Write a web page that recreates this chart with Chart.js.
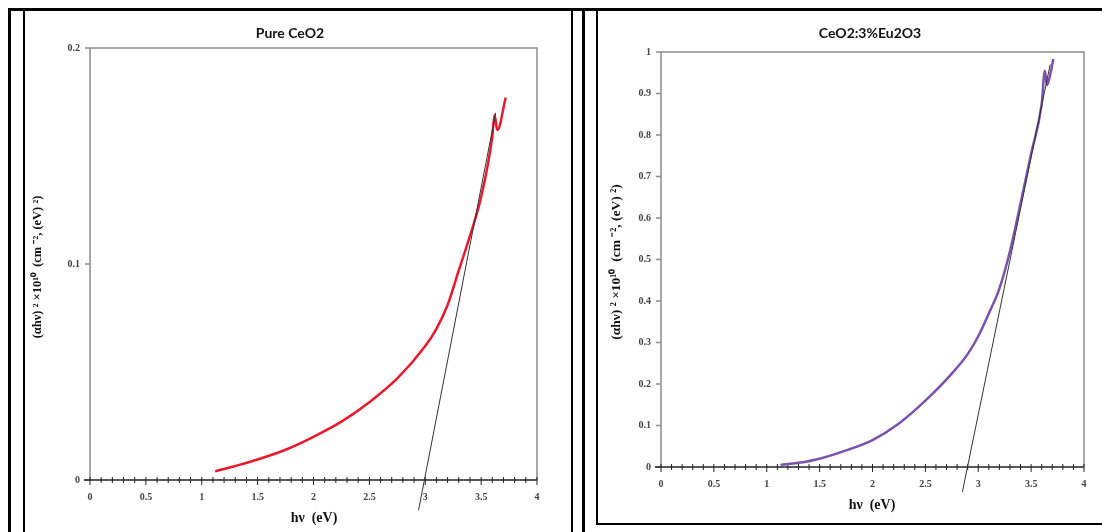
<!DOCTYPE html>
<html>
<head>
<meta charset="utf-8">
<script src="https://cdn.jsdelivr.net/npm/chart.js@4.4.1/dist/chart.umd.min.js"></script>
<style>
body { margin: 0; background: #fff; width: 1102px; height: 532px; overflow: hidden; position: relative; }
.ln { position: absolute; background: #000; }
canvas { position: absolute; }
</style>
</head>
<body>
<div class="ln" style="left:8px;top:8px;width:1094px;height:3px"></div>
<div class="ln" style="left:8px;top:8px;width:3px;height:524px"></div>
<div class="ln" style="left:23px;top:10px;width:2px;height:522px"></div>
<div class="ln" style="left:571px;top:10px;width:2px;height:522px"></div>
<div class="ln" style="left:582px;top:10px;width:3px;height:522px"></div>
<div class="ln" style="left:596px;top:10px;width:2px;height:515px"></div>
<div class="ln" style="left:596px;top:523px;width:506px;height:2px"></div>
<canvas id="pure" width="546" height="520" style="left:25px;top:12px"></canvas>
<canvas id="eu" width="504" height="511" style="left:598px;top:12px"></canvas>
<script>
// Pure CeO2 : (alpha h nu)^2 against photon energy
const pureX = [1.12, 1.3, 1.5, 1.75, 2.0, 2.25, 2.5, 2.75, 3.0, 3.1, 3.2, 3.3, 3.4, 3.5, 3.6, 3.62, 3.645, 3.72];
const pureY = [0.004, 0.0065, 0.0095, 0.014, 0.020, 0.027, 0.036, 0.047, 0.062, 0.070, 0.081, 0.097, 0.113, 0.131, 0.159, 0.169, 0.162, 0.177];
const pureFitX = [2.94, 3.63];
const pureFitY = [-0.014, 0.170];

// CeO2:3%Eu2O3
const euX = [1.13, 1.3, 1.5, 1.75, 2.0, 2.25, 2.5, 2.75, 2.9, 3.0, 3.1, 3.2, 3.3, 3.4, 3.5, 3.6, 3.63, 3.65, 3.68, 3.71];
const euY = [0.005, 0.01, 0.02, 0.04, 0.065, 0.105, 0.16, 0.225, 0.272, 0.315, 0.37, 0.43, 0.52, 0.635, 0.755, 0.875, 0.955, 0.92, 0.945, 0.983];
const euFitX = [2.85, 3.68];
const euFitY = [-0.06, 0.97];

const xTitle = 'hν  (eV)';
const yTitle = '(αhν) ² ×10¹⁰  (cm ⁻², (eV) ²)';

const pts = (xs, ys) => xs.map((v, i) => ({ x: v, y: ys[i] }));
const tickText = v => String(+v.toFixed(2));

// frame, minor ticks and the free-placed texts
const decor = {
    id: 'decor',
    beforeDatasetsDraw(chart, args, o) {
        const { ctx, chartArea: a, scales: { x, y } } = chart;
        ctx.save();
        ctx.strokeStyle = '#8c8c8c';
        ctx.lineWidth = 1.5;
        ctx.beginPath();
        ctx.moveTo(a.left, a.bottom);
        ctx.lineTo(a.left, a.top);
        ctx.lineTo(a.right, a.top);
        ctx.lineTo(a.right, a.bottom);
        y.ticks.forEach(t => {
            const py = y.getPixelForValue(t.value);
            ctx.moveTo(a.left - 5, py);
            ctx.lineTo(a.left, py);
        });
        ctx.stroke();
        ctx.strokeStyle = '#222';
        ctx.lineWidth = 1.6;
        ctx.beginPath();
        ctx.moveTo(a.left - 6, a.bottom);
        ctx.lineTo(a.right, a.bottom);
        ctx.stroke();
        ctx.lineWidth = 1;
        ctx.beginPath();
        for (let i = 0; i <= 40; i++) {
            const px = x.getPixelForValue(i / 10);
            const big = i % 5 === 0;
            ctx.moveTo(px, a.bottom - 3);
            ctx.lineTo(px, a.bottom + (big ? 5 : 3));
        }
        ctx.stroke();
        ctx.restore();
    },
    afterDraw(chart, args, o) {
        const ctx = chart.ctx;
        ctx.save();
        ctx.fillStyle = '#111';
        ctx.textAlign = 'center';
        ctx.textBaseline = 'middle';
        ctx.font = 'bold 14px Lato';
        ctx.fillText(o.title, o.tx, o.ty);
        ctx.font = 'bold 14px "Liberation Serif"';
        ctx.fillText(xTitle, o.xx, o.xy);
        ctx.translate(o.yx, o.yy);
        ctx.rotate(-Math.PI / 2);
        ctx.font = 'bold ' + o.ys + 'px "Liberation Serif"';
        ctx.fillText(yTitle, 0, 0);
        ctx.restore();
    }
};

function makeChart(id, curve, fit, color, yMax, yStep, yWidth, xHeight, pad, text) {
    return new Chart(document.getElementById(id), {
        type: 'scatter',
        data: {
            datasets: [
                {
                    data: fit,
                    showLine: true,
                    borderColor: '#333',
                    borderWidth: 1,
                    pointRadius: 0,
                    clip: false
                },
                {
                    data: curve,
                    showLine: true,
                    borderColor: color,
                    borderWidth: 2.5,
                    pointRadius: 0,
                    cubicInterpolationMode: 'monotone'
                }
            ]
        },
        options: {
            responsive: false,
            animation: false,
            layout: { padding: pad },
            scales: {
                x: {
                    type: 'linear',
                    min: 0,
                    max: 4,
                    ticks: { stepSize: 0.5, padding: 11, color: '#444', callback: tickText, font: { family: 'Liberation Serif', size: 10, weight: 'bold' } },
                    grid: { display: true, drawOnChartArea: false, drawTicks: false },
                    border: { display: false },
                    afterFit: s => { s.height = xHeight; }
                },
                y: {
                    type: 'linear',
                    min: 0,
                    max: yMax,
                    ticks: { stepSize: yStep, padding: 10, color: '#444', callback: tickText, font: { family: 'Liberation Serif', size: 10, weight: 'bold' } },
                    grid: { display: true, drawOnChartArea: false, drawTicks: false },
                    border: { display: false },
                    afterFit: s => { s.width = yWidth; }
                }
            },
            plugins: {
                legend: { display: false },
                tooltip: { enabled: false },
                decor: text
            }
        },
        plugins: [decor]
    });
}

makeChart('pure', pts(pureX, pureY), pts(pureFitX, pureFitY), '#e8192c', 0.2, 0.1, 65, 52,
    { top: 36, right: 34, left: 0, bottom: 0 },
    { title: 'Pure CeO2', tx: 265, ty: 21, xx: 289, xy: 506, yx: 13, yy: 255, ys: 12.5 });

makeChart('eu', pts(euX, euY), pts(euFitX, euFitY), '#7b52ab', 1, 0.1, 63, 56,
    { top: 40, right: 18, left: 0, bottom: 0 },
    { title: 'CeO2:3%Eu2O3', tx: 272, ty: 21, xx: 274, xy: 493, yx: 19, yy: 250, ys: 13.5 });
</script>
</body>
</html>
